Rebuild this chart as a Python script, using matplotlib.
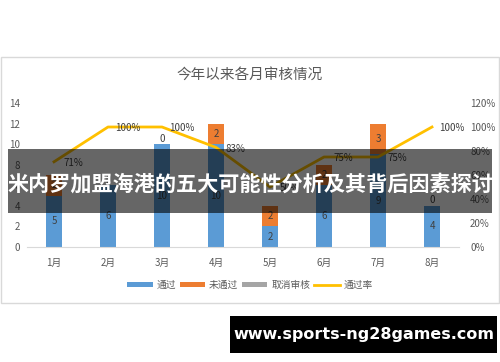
import matplotlib
matplotlib.use("Agg")
import matplotlib.pyplot as plt
from matplotlib.patches import Rectangle, Patch
from matplotlib.lines import Line2D
import numpy as np

plt.rcParams['font.family'] = ['Noto Sans CJK SC', 'DejaVu Sans']

months = ['1月', '2月', '3月', '4月', '5月', '6月', '7月', '8月']
passed = [5, 6, 10, 10, 2, 6, 9, 4]
failed = [2, 0, 0, 2, 2, 2, 3, 0]
cancelled = [0, 0, 0, 0, 0, 0, 0, 0]
rate = [71, 100, 100, 83, 50, 75, 75, 100]
left_ticks = [0, 2, 4, 6, 8, 10, 12, 14]
right_ticks = [0, 20, 40, 60, 80, 100, 120]

title = '今年以来各月审核情况'
banner = '米内罗加盟海港的五大可能性分析及其背后因素探讨'
watermark = 'www.sports-ng28games.com'

W, H = 500, 362
fig = plt.figure(figsize=(W / 100, H / 100), dpi=100)

def fx(px):
    return px / W

def fy(py):
    return 1 - py / H

# outer chart frame
fig.patches.append(Rectangle((fx(1), fy(303)), fx(498), 246 / H, transform=fig.transFigure,
                             fill=False, edgecolor='#D9D9D9', linewidth=1.0, zorder=0))

ax = fig.add_axes([fx(27), fy(247), fx(432), 144 / H])
x = np.arange(len(months))
bw = 0.3
blue, orange, gray, yellow = '#5B9BD5', '#ED7D31', '#A5A5A5', '#FFC000'
ax.bar(x, passed, bw, color=blue, zorder=2)
ax.bar(x, failed, bw, bottom=passed, color=orange, zorder=2)
bot2 = [p + f for p, f in zip(passed, failed)]
ax.bar(x, cancelled, bw, bottom=bot2, color=gray, zorder=2)

for i in range(len(months)):
    ax.text(x[i], passed[i] / 2, str(passed[i]), ha='center', va='center', fontsize=7, color='#404040', zorder=4)
    if failed[i] > 0:
        ax.text(x[i], passed[i] + failed[i] / 2, str(failed[i]), ha='center', va='center', fontsize=7, color='#404040', zorder=4)
    else:
        ax.text(x[i], passed[i] + 0.05, str(failed[i]), ha='center', va='bottom', fontsize=7, color='#404040', zorder=4)

ax.set_xlim(-0.5, len(months) - 0.5)
ax.set_ylim(0, 14)
ax.set_yticks(left_ticks)
ax.set_yticklabels([str(t) for t in left_ticks])
ax.set_xticks(x)
ax.set_xticklabels(months)
ax.tick_params(axis='both', length=0, labelsize=7, colors='#595959')
ax.tick_params(axis='y', pad=5)
ax.tick_params(axis='x', pad=8)
for s in ['top', 'right', 'left']:
    ax.spines[s].set_visible(False)
ax.spines['bottom'].set_color('#D9D9D9')
ax.patch.set_visible(False)

ax2 = ax.twinx()
ax2.plot(x, rate, color=yellow, linewidth=2, zorder=3)
ax2.set_ylim(0, 120)
ax2.set_yticks(right_ticks)
ax2.set_yticklabels([f'{t}%' for t in right_ticks])
ax2.tick_params(axis='y', length=0, labelsize=7, colors='#595959', pad=8)
for s in ['top', 'right', 'left', 'bottom']:
    ax2.spines[s].set_visible(False)
for i in range(len(months)):
    ax2.annotate(f'{rate[i]}%', (x[i], rate[i]), xytext=(14, -1), textcoords='offset points',
                 ha='center', va='center', fontsize=7, color='#404040')

fig.text(0.5, fy(75), title, ha='center', va='center', fontsize=10.5, color='#595959')

handles = [Patch(facecolor=blue), Patch(facecolor=orange), Patch(facecolor=gray),
           Line2D([0], [0], color=yellow, linewidth=2)]
fig.legend(handles, ['通过', '未通过', '取消审核', '通过率'], loc='center', bbox_to_anchor=(0.5, fy(285)),
           ncol=4, frameon=False, fontsize=7, labelcolor='#595959', handlelength=2.6, handleheight=0.5,
           columnspacing=0.4, handletextpad=0.4)

# banner overlay
fig.patches.append(Rectangle((fx(8), fy(213)), fx(484), 64 / H, transform=fig.transFigure,
                             facecolor='black', alpha=0.6, edgecolor='none', zorder=10))
fig.text(0.5, fy(184), banner, ha='center', va='center', fontsize=15.2, fontweight='bold',
         color='white', zorder=11)

# watermark
fig.patches.append(Rectangle((fx(230), fy(353)), fx(267), 37 / H, transform=fig.transFigure,
                             facecolor='black', edgecolor='none', zorder=10))
fig.text(fx(364), fy(335), watermark, ha='center', va='center', fontsize=11.5, fontweight='bold',
         color='white', family='DejaVu Sans', zorder=11)

fig.savefig('out.png', dpi=100)
